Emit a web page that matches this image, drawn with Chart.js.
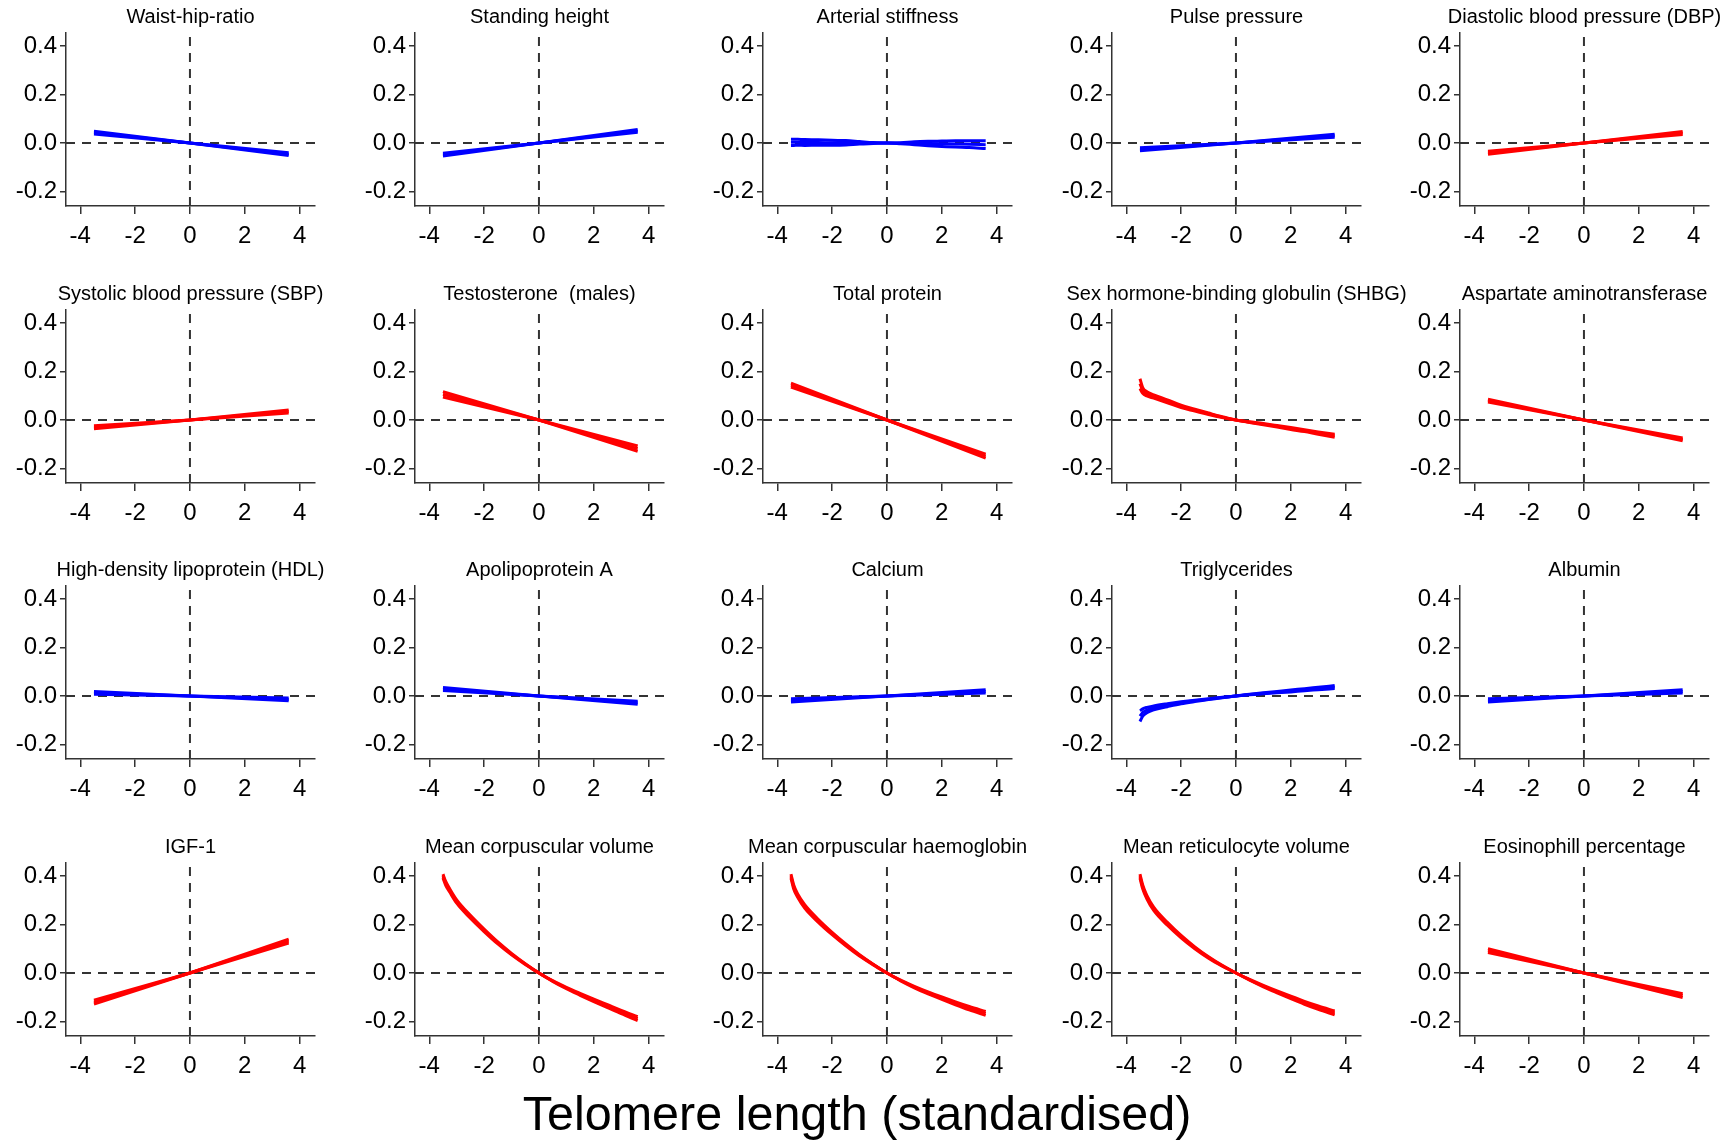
<!DOCTYPE html>
<html>
<head>
<meta charset="utf-8">
<title>Telomere length associations</title>
<script src="https://cdn.jsdelivr.net/npm/chart.js@4.4.1/dist/chart.umd.min.js"></script>
<style>
  html, body { margin: 0; padding: 0; background: #fff; }
  #fig { position: relative; width: 1734px; height: 1144px; overflow: hidden; background: #fff;
         font-family: 'Liberation Sans', Arial, sans-serif; }
  #fig canvas { position: absolute; }
  #xtitle { position: absolute; left: 0; width: 1714px; top: 1089px; text-align: center;
            font-size: 48.5px; line-height: 48px; color: #000; }
</style>
</head>
<body>
<div id="fig">
  <div id="xtitle">Telomere length (standardised)</div>
</div>
<script>
/* 4 x 5 grid of spline panels: estimate + lower/upper CI lines */

const X_TICKS = [-4, -2, 0, 2, 4];
const Y_TICKS = [-0.2, 0, 0.2, 0.4];
const X_MIN = -4.52, X_MAX = 4.56;
const Y_MIN = -0.26, Y_MAX = 0.454;

// straight-line panels are read at the two ends and the origin
const X_LIN  = [-3.5, 0, 3.6];
// curved panels are read on a finer grid
const X_GRID = [-3.5, -3.4, -3.25, -3, -2.5, -2, -1.5, -1, -0.5, 0, 0.5, 1, 1.5, 2, 2.5, 3, 3.6];

const waistEst = [0.043, 0, -0.046], waistLo = [0.037, 0, -0.052], waistHi = [0.049, 0, -0.040];
const heightEst = [-0.048, 0, 0.050], heightLo = [-0.054, 0, 0.044], heightHi = [-0.042, 0, 0.056];
const stiffEst = [0.003, 0.003, 0.003, 0.002, 0.002, 0.001, 0.001, 0.001, 0, 0, -0.001, -0.001, -0.002, -0.003, -0.004, -0.005, -0.007];
const stiffLo  = [-0.010, -0.010, -0.009, -0.010, -0.009, -0.009, -0.008, -0.004, -0.002, 0, -0.003, -0.007, -0.011, -0.014, -0.017, -0.019, -0.023];
const stiffHi  = [0.016, 0.016, 0.015, 0.014, 0.013, 0.011, 0.010, 0.006, 0.002, 0, 0.001, 0.005, 0.007, 0.008, 0.009, 0.009, 0.009];
const pulseEst = [-0.026, 0, 0.030], pulseLo = [-0.032, 0, 0.024], pulseHi = [-0.020, 0, 0.036];
const dbpEst = [-0.040, 0, 0.041], dbpLo = [-0.046, 0, 0.035], dbpHi = [-0.034, 0, 0.047];

const sbpEst = [-0.030, 0, 0.035], sbpLo = [-0.036, 0, 0.029], sbpHi = [-0.024, 0, 0.041];
const testoEst = [0.106, 0, -0.118], testoLo = [0.095, 0, -0.129], testoHi = [0.117, 0, -0.107];
const protEst = [0.144, 0, -0.149], protLo = [0.136, 0, -0.157], protHi = [0.152, 0, -0.141];
const shbgEst = [0.150, 0.122, 0.108, 0.097, 0.077, 0.056, 0.041, 0.026, 0.012, 0, -0.009, -0.017, -0.026, -0.035, -0.044, -0.054, -0.065];
const shbgLo  = [0.130, 0.110, 0.099, 0.090, 0.071, 0.051, 0.037, 0.023, 0.0105, 0, -0.0105, -0.020, -0.029, -0.039, -0.048, -0.059, -0.071];
const shbgHi  = [0.170, 0.134, 0.117, 0.104, 0.083, 0.061, 0.045, 0.029, 0.0135, 0, -0.0075, -0.014, -0.023, -0.031, -0.040, -0.049, -0.059];
const astEst = [0.080, 0, -0.080], astLo = [0.074, 0, -0.086], astHi = [0.086, 0, -0.074];

const hdlEst = [0.013, 0, -0.014], hdlLo = [0.007, 0, -0.020], hdlHi = [0.019, 0, -0.008];
const apoaEst = [0.029, 0, -0.028], apoaLo = [0.023, 0, -0.034], apoaHi = [0.035, 0, -0.022];
const calcEst = [-0.018, 0, 0.019], calcLo = [-0.025, 0, 0.012], calcHi = [-0.011, 0, 0.026];
const trigEst = [-0.083, -0.068, -0.058, -0.049, -0.038, -0.028, -0.020, -0.013, -0.006, 0, 0.006, 0.011, 0.016, 0.021, 0.026, 0.031, 0.037];
const trigLo  = [-0.105, -0.083, -0.069, -0.057, -0.044, -0.032, -0.023, -0.015, -0.007, 0, 0.005, 0.009, 0.013, 0.017, 0.022, 0.026, 0.031];
const trigHi  = [-0.061, -0.053, -0.047, -0.041, -0.032, -0.024, -0.017, -0.011, -0.005, 0, 0.007, 0.013, 0.019, 0.025, 0.030, 0.036, 0.043];
const albEst = [-0.018, 0, 0.019], albLo = [-0.025, 0, 0.012], albHi = [-0.011, 0, 0.026];

const igfEst = [-0.120, 0, 0.132], igfLo = [-0.128, 0, 0.124], igfHi = [-0.112, 0, 0.140];
const mcvEst = [0.400, 0.370, 0.340, 0.295, 0.232, 0.176, 0.124, 0.078, 0.037, 0, -0.033, -0.062, -0.088, -0.113, -0.137, -0.161, -0.188];
const mcvLo  = [0.392, 0.362, 0.333, 0.288, 0.226, 0.171, 0.120, 0.075, 0.0355, 0, -0.0345, -0.065, -0.092, -0.118, -0.143, -0.168, -0.196];
const mcvHi  = [0.408, 0.378, 0.347, 0.302, 0.238, 0.181, 0.128, 0.081, 0.0385, 0, -0.0315, -0.059, -0.084, -0.108, -0.131, -0.154, -0.180];
const mchEst = [0.400, 0.355, 0.318, 0.275, 0.215, 0.163, 0.116, 0.073, 0.035, 0, -0.031, -0.058, -0.082, -0.104, -0.125, -0.145, -0.167];
const mchLo  = [0.392, 0.347, 0.311, 0.268, 0.209, 0.158, 0.112, 0.070, 0.0335, 0, -0.0325, -0.061, -0.086, -0.109, -0.131, -0.152, -0.175];
const mchHi  = [0.408, 0.363, 0.325, 0.282, 0.221, 0.168, 0.120, 0.076, 0.0365, 0, -0.0295, -0.055, -0.078, -0.099, -0.119, -0.138, -0.159];
const mrvEst = [0.400, 0.355, 0.313, 0.265, 0.203, 0.150, 0.104, 0.064, 0.030, 0, -0.028, -0.054, -0.078, -0.101, -0.123, -0.143, -0.165];
const mrvLo  = [0.392, 0.347, 0.306, 0.258, 0.197, 0.145, 0.100, 0.061, 0.0285, 0, -0.0295, -0.057, -0.082, -0.106, -0.129, -0.150, -0.173];
const mrvHi  = [0.408, 0.363, 0.320, 0.272, 0.209, 0.155, 0.108, 0.067, 0.0315, 0, -0.0265, -0.051, -0.074, -0.096, -0.117, -0.136, -0.157];
const eosEst = [0.092, 0, -0.093], eosLo = [0.084, 0, -0.101], eosHi = [0.100, 0, -0.085];

const BLUE = '#0000ff', RED = '#ff0000', AXIS = '#333333';

const PANELS = [
  { title: 'Waist-hip-ratio', color: BLUE, x: X_LIN, est: waistEst, lo: waistLo, hi: waistHi },
  { title: 'Standing height', color: BLUE, x: X_LIN, est: heightEst, lo: heightLo, hi: heightHi },
  { title: 'Arterial stiffness', color: BLUE, x: X_GRID, est: stiffEst, lo: stiffLo, hi: stiffHi },
  { title: 'Pulse pressure', color: BLUE, x: X_LIN, est: pulseEst, lo: pulseLo, hi: pulseHi },
  { title: 'Diastolic blood pressure (DBP)', color: RED, x: X_LIN, est: dbpEst, lo: dbpLo, hi: dbpHi },
  { title: 'Systolic blood pressure (SBP)', color: RED, x: X_LIN, est: sbpEst, lo: sbpLo, hi: sbpHi },
  { title: 'Testosterone  (males)', color: RED, x: X_LIN, est: testoEst, lo: testoLo, hi: testoHi },
  { title: 'Total protein', color: RED, x: X_LIN, est: protEst, lo: protLo, hi: protHi },
  { title: 'Sex hormone-binding globulin (SHBG)', color: RED, x: X_GRID, est: shbgEst, lo: shbgLo, hi: shbgHi },
  { title: 'Aspartate aminotransferase', color: RED, x: X_LIN, est: astEst, lo: astLo, hi: astHi },
  { title: 'High-density lipoprotein (HDL)', color: BLUE, x: X_LIN, est: hdlEst, lo: hdlLo, hi: hdlHi },
  { title: 'Apolipoprotein A', color: BLUE, x: X_LIN, est: apoaEst, lo: apoaLo, hi: apoaHi },
  { title: 'Calcium', color: BLUE, x: X_LIN, est: calcEst, lo: calcLo, hi: calcHi },
  { title: 'Triglycerides', color: BLUE, x: X_GRID, est: trigEst, lo: trigLo, hi: trigHi },
  { title: 'Albumin', color: BLUE, x: X_LIN, est: albEst, lo: albLo, hi: albHi },
  { title: 'IGF-1', color: RED, x: X_LIN, est: igfEst, lo: igfLo, hi: igfHi },
  { title: 'Mean corpuscular volume', color: RED, x: X_GRID, est: mcvEst, lo: mcvLo, hi: mcvHi },
  { title: 'Mean corpuscular haemoglobin', color: RED, x: X_GRID, est: mchEst, lo: mchLo, hi: mchHi },
  { title: 'Mean reticulocyte volume', color: RED, x: X_GRID, est: mrvEst, lo: mrvLo, hi: mrvHi },
  { title: 'Eosinophill percentage', color: RED, x: X_LIN, est: eosEst, lo: eosLo, hi: eosHi },
];

const FONT = "'Liberation Sans', Arial, sans-serif";
Chart.defaults.font.family = FONT;

// panel title centred over the plot area, allowed to run past it (long titles overflow in the original)
const panelTitle = {
  id: 'panelTitle',
  afterDraw(chart, args, opts) {
    const { ctx, chartArea } = chart;
    ctx.save();
    ctx.font = `${opts.size}px ${FONT}`;
    ctx.fillStyle = '#000';
    ctx.textAlign = 'center';
    ctx.textBaseline = 'middle';
    ctx.fillText(opts.text, (chartArea.left + chartArea.right) / 2, opts.y);
    ctx.restore();
  }
};

function curveSet(p, ys) {
  return {
    data: p.x.map((x, k) => ({ x, y: ys[k] })),
    borderColor: p.color, borderWidth: 3, pointRadius: 0, fill: false,
    cubicInterpolationMode: p.x === X_GRID ? 'monotone' : 'default', tension: 0,
  };
}

function refSet(pts) {
  return { data: pts, borderColor: AXIS, borderWidth: 2, borderDash: [9, 7], pointRadius: 0, fill: false };
}

function axisOpts(min, max, ticks, fmt, tickLen, pad, fit) {
  return {
    type: 'linear', min, max,
    afterBuildTicks: s => { s.ticks = ticks.map(v => ({ value: v })); },
    afterFit: fit,
    grid: { drawOnChartArea: false, drawTicks: true, tickLength: tickLen, color: AXIS, lineWidth: 1.5 },
    border: { display: true, color: AXIS, width: 1.5 },
    ticks: { color: '#000', font: { size: 24 }, padding: pad, autoSkip: false, maxRotation: 0, callback: fmt },
  };
}

function renderPanel(p, i) {
  const row = Math.floor(i / 5), col = i % 5;
  const cv = document.createElement('canvas');
  cv.width = 400; cv.height = 277;
  cv.style.left = Math.round(col * 348.5) + 'px';
  cv.style.top = Math.round(row * 276.7) + 'px';
  document.getElementById('fig').appendChild(cv);

  new Chart(cv, {
    type: 'line',
    data: {
      datasets: [
        curveSet(p, p.est), curveSet(p, p.lo), curveSet(p, p.hi),
        refSet([{ x: X_MIN, y: 0 }, { x: X_MAX, y: 0 }]),
        refSet([{ x: 0, y: Y_MIN }, { x: 0, y: Y_MAX }]),
      ]
    },
    plugins: [panelTitle],
    options: {
      responsive: false, animation: false, devicePixelRatio: 1, events: [],
      layout: { padding: { left: 0, right: 85, top: 33, bottom: 0 } },
      plugins: {
        legend: { display: false },
        tooltip: { enabled: false },
        title: { display: false },
        panelTitle: { text: p.title, size: 20, y: 17.5 },
      },
      scales: {
        x: axisOpts(X_MIN, X_MAX, X_TICKS, v => String(v), 8, 8, s => { s.height = 71; }),
        y: axisOpts(Y_MIN, Y_MAX, Y_TICKS, v => v.toFixed(1), 6, 3, s => { s.width = 66; }),
      }
    }
  });
}

PANELS.forEach(renderPanel);
</script>
</body>
</html>
